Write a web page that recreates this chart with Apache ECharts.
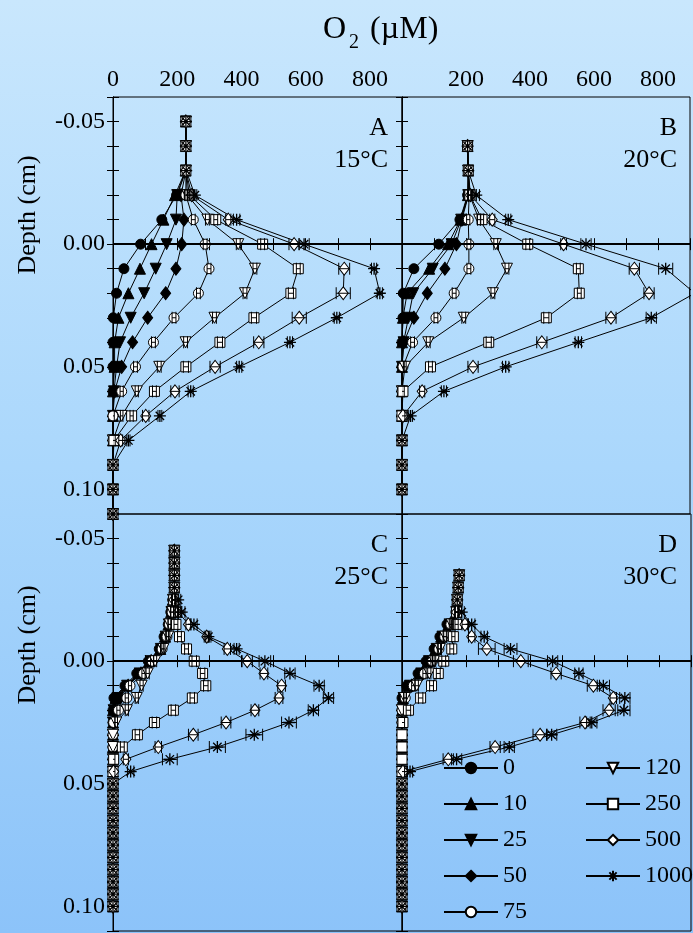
<!DOCTYPE html>
<html><head><meta charset="utf-8">
<script src="https://cdn.jsdelivr.net/npm/echarts@6/dist/echarts.min.js"></script>
<style>html,body{margin:0;padding:0;}body{width:693px;height:933px;background:linear-gradient(to bottom,#c9e7fd 0%,#aad7fc 50%,#8cc3f9 100%);}#c{width:693px;height:933px;}</style>
</head><body><div id="c"></div>
<script>
// ---- data ----
var seriesNames = ['0','10','25','50','75','120','250','500','1000'];
var xTicks = [0,200,400,600,800];
var yTicks = [-0.05,0.00,0.05,0.10];
var panelLabels = ['A','B','C','D'];
var panelTemps = ['15°C','20°C','25°C','30°C'];

var depthA = [-0.05,-0.04,-0.03,-0.02,-0.01,0,0.01,0.02,0.03,0.04,0.05,0.06,0.07,0.08,0.09,0.10,0.11];
var A_0    = [227,227,226,198,152,86,34,11,1,0,0,0,0,0,0,0,0];
var A_10   = [227,227,226,193,157,120,84,48,17,5,5,0,0,0,0,0,0];
var A_25   = [227,227,227,200,196,167,133,97,55,22,11,3,0,0,0,0,0];
var A_50   = [227,227,227,212,221,214,196,164,108,61,27,5,0,0,0,0,0];
var A_75   = [227,227,227,227,250,287,299,266,190,126,70,27,0,0,0,0,0];
var A_120  = [227,227,227,232,294,390,442,411,316,226,144,74,27,0,0,0,0];
var A_250  = [227,227,227,238,320,466,577,554,439,333,227,129,58,3,0,0,0];
var A_500  = [227,227,227,245,359,564,720,717,580,454,318,193,102,24,0,0,0];
var A_1000 = [227,227,228,255,385,595,813,831,697,551,393,242,146,48,0,0,0];
// error half-widths (uM)
var A_e75   = [0,0,0,5,6,6,6,6,6,6,6,5,4,0,0,0,0];
var A_e120  = [0,0,0,5,6,6,6,6,6,6,6,5,4,0,0,0,0];
var A_e250  = [0,0,0,5,6,6,6,8,8,8,8,6,5,4,0,0,0];
var A_e500  = [0,0,0,6,8,16,17,22,22,16,16,13,10,6,0,0,0];
var A_e1000 = [0,0,0,6,10,16,8,8,8,8,8,8,6,5,0,0,0];

var depthB = [-0.04,-0.03,-0.02,-0.01,0,0.01,0.02,0.03,0.04,0.05,0.06,0.07,0.08,0.09,0.10];
var B_0    = [205,207,205,181,115,37,4,3,0,0,0,0,0,0,0];
var B_10   = [205,207,206,183,144,85,16,3,0,0,0,0,0,0,0];
var B_25   = [205,207,207,185,155,96,35,20,5,0,0,0,0,0,0];
var B_50   = [205,207,208,187,170,134,79,37,6,0,0,0,0,0,0];
var B_75   = [205,207,210,207,209,209,163,106,33,3,0,0,0,0,0];
var B_120  = [205,207,211,241,293,328,284,193,82,9,0,0,0,0,0];
var B_250  = [205,207,212,250,393,551,554,451,271,89,3,0,0,0,0];
var B_500  = [205,207,214,282,505,726,772,653,437,222,63,3,0,0,0];
var B_1000 = [205,207,232,332,575,824,915,779,551,324,131,27,0,0,0];
var B_e75   = [0,0,5,5,6,6,6,6,6,4,0,0,0,0,0];
var B_e120  = [0,0,5,5,6,6,6,6,6,4,0,0,0,0,0];
var B_e250  = [0,0,5,5,6,6,6,8,8,6,4,0,0,0,0];
var B_e500  = [0,0,6,8,9,16,16,16,16,16,8,6,0,0,0];
var B_e1000 = [0,0,10,8,16,22,16,16,10,10,8,6,0,0,0];

var depthC = [-0.045,-0.04,-0.035,-0.03,-0.025,-0.02,-0.015,-0.01,-0.005,0,0.005,0.01,0.015,0.02,0.025,0.03,0.035,0.04,0.045,0.05,0.055,0.06,0.065,0.07,0.075,0.08,0.085,0.09,0.095,0.10];
var C_0    = [191,191,191,191,186,180,172,159,144,110,74,37,3,0,0,0,0,0,0,0,0,0,0,0,0,0,0,0,0,0];
var C_10   = [191,191,191,191,186,181,173,162,147,114,79,41,8,0,0,0,0,0,0,0,0,0,0,0,0,0,0,0,0,0];
var C_25   = [191,191,191,191,187,182,174,164,149,117,83,44,14,2,0,0,0,0,0,0,0,0,0,0,0,0,0,0,0,0];
var C_50   = [191,191,191,191,187,183,175,166,151,119,87,47,22,5,0,0,0,0,0,0,0,0,0,0,0,0,0,0,0,0];
var C_75   = [191,191,191,191,188,184,176,168,153,122,95,53,43,17,2,0,0,0,0,0,0,0,0,0,0,0,0,0,0,0];
var C_120  = [191,191,191,191,188,185,177,172,157,131,108,89,74,43,10,0,0,0,0,0,0,0,0,0,0,0,0,0,0,0];
var C_250  = [191,191,191,191,189,195,196,207,229,253,279,289,247,188,129,76,29,2,0,0,0,0,0,0,0,0,0,0,0,0];
var C_500  = [191,191,191,191,190,203,235,292,356,418,470,525,517,442,352,250,141,40,2,0,0,0,0,0,0,0,0,0,0,0];
var C_1000 = [191,191,191,191,203,214,252,297,385,473,551,642,671,624,548,440,325,177,55,0,0,0,0,0,0,0,0,0,0,0];
var C_e75   = [0,0,0,0,5,5,5,5,5,5,5,5,5,5,4,0,0,0,0,0,0,0,0,0,0,0,0,0,0,0];
var C_e120  = [0,0,0,0,5,5,5,5,5,5,5,5,5,5,4,0,0,0,0,0,0,0,0,0,0,0,0,0,0,0];
var C_e250  = [0,0,0,0,5,6,6,6,6,7,7,7,7,7,7,7,6,4,0,0,0,0,0,0,0,0,0,0,0,0];
var C_e500  = [0,0,0,0,5,8,8,8,10,16,12,12,12,12,15,15,10,8,4,0,0,0,0,0,0,0,0,0,0,0];
var C_e1000 = [0,0,0,0,8,10,10,8,8,18,16,16,16,16,23,26,25,23,10,0,0,0,0,0,0,0,0,0,0,0];

var depthD = [-0.035,-0.03,-0.025,-0.02,-0.015,-0.01,-0.005,0,0.005,0.01,0.015,0.02,0.025,0.03,0.035,0.04,0.045,0.05,0.055,0.06,0.065,0.07,0.075,0.08,0.085,0.09,0.095,0.10];
var D_0    = [178,175,172,168,140,118,100,75,50,15,0,0,0,0,0,0,0,0,0,0,0,0,0,0,0,0,0,0];
var D_10   = [178,175,172,168,145,122,105,80,56,20,3,0,0,0,0,0,0,0,0,0,0,0,0,0,0,0,0,0];
var D_25   = [178,175,172,169,148,126,108,84,60,25,5,0,0,0,0,0,0,0,0,0,0,0,0,0,0,0,0,0];
var D_50   = [178,175,172,169,150,130,112,88,64,30,7,0,0,0,0,0,0,0,0,0,0,0,0,0,0,0,0,0];
var D_75   = [178,175,172,170,152,133,115,95,70,35,10,0,0,0,0,0,0,0,0,0,0,0,0,0,0,0,0,0];
var D_120  = [178,175,172,170,155,135,118,100,85,46,9,0,0,0,0,0,0,0,0,0,0,0,0,0,0,0,0,0];
var D_250  = [178,175,172,170,170,160,155,130,113,92,58,20,3,0,0,0,0,0,0,0,0,0,0,0,0,0,0,0];
var D_500  = [178,175,172,170,196,217,264,370,480,596,658,645,570,430,290,144,3,0,0,0,0,0,0,0,0,0,0,0];
var D_1000 = [178,175,172,186,217,256,338,469,551,627,694,691,591,466,334,170,25,0,0,0,0,0,0,0,0,0,0,0];
var D_e75   = [0,0,0,5,5,5,5,5,5,5,4,0,0,0,0,0,0,0,0,0,0,0,0,0,0,0,0,0];
var D_e120  = [0,0,0,5,5,5,5,5,5,5,4,0,0,0,0,0,0,0,0,0,0,0,0,0,0,0,0,0];
var D_e250  = [0,0,0,5,5,5,6,6,6,6,7,7,5,0,0,0,0,0,0,0,0,0,0,0,0,0,0,0];
var D_e500  = [0,0,0,5,9,10,26,23,16,19,10,19,16,22,16,16,5,0,0,0,0,0,0,0,0,0,0,0];
var D_e1000 = [0,0,0,8,10,10,20,16,13,19,16,19,16,16,16,16,8,0,0,0,0,0,0,0,0,0,0,0];

var panels = [
  {depth: depthA, vals: [A_0,A_10,A_25,A_50,A_75,A_120,A_250,A_500,A_1000], errs: {4:A_e75, 5:A_e120, 6:A_e250, 7:A_e500, 8:A_e1000}},
  {depth: depthB, vals: [B_0,B_10,B_25,B_50,B_75,B_120,B_250,B_500,B_1000], errs: {4:B_e75, 5:B_e120, 6:B_e250, 7:B_e500, 8:B_e1000}},
  {depth: depthC, vals: [C_0,C_10,C_25,C_50,C_75,C_120,C_250,C_500,C_1000], errs: {4:C_e75, 5:C_e120, 6:C_e250, 7:C_e500, 8:C_e1000}},
  {depth: depthD, vals: [D_0,D_10,D_25,D_50,D_75,D_120,D_250,D_500,D_1000], errs: {4:D_e75, 5:D_e120, 6:D_e250, 7:D_e500, 8:D_e1000}}
];

// ---- styles ----
var FONT = "'Liberation Serif','Times New Roman',serif";
var triDown = 'path://M0,0 L10,0 L5,9 Z';
var aster = 'path://M5,0 L5,10 M0,5 L10,5 M1.5,1.5 L8.5,8.5 M1.5,8.5 L8.5,1.5';
var sym = [
  {s:'circle', size:10, fill:'#000'},
  {s:'triangle', size:11, fill:'#000'},
  {s:triDown, size:11, fill:'#000'},
  {s:'diamond', size:[10,13], fill:'#000'},
  {s:'circle', size:10, fill:'#fff'},
  {s:triDown, size:11, fill:'#fff'},
  {s:'rect', size:10, fill:'#fff'},
  {s:'diamond', size:[10,13], fill:'#fff'},
  {s:aster, size:12, fill:'#000'}
];

function renderErr(params, api) {
  var e = api.value(2);
  if (!e) return null;
  var x = api.value(0), y = api.value(1);
  var l = api.coord([x - e, y]), r = api.coord([x + e, y]);
  var h = 6;
  var st = {stroke:'#000', lineWidth:1};
  return {type:'group', children:[
    {type:'line', shape:{x1:l[0], y1:l[1], x2:r[0], y2:r[1]}, style:st},
    {type:'line', shape:{x1:l[0], y1:l[1]-h, x2:l[0], y2:l[1]+h}, style:st},
    {type:'line', shape:{x1:r[0], y1:r[1]-h, x2:r[0], y2:r[1]+h}, style:st}
  ]};
}

var gridPos = [
  {left:113, top:97}, {left:402, top:97}, {left:113, top:514}, {left:402, top:514}
];
var grids = [], xAxes = [], yAxes = [], series = [];
gridPos.forEach(function(g, p){
  grids.push({left:g.left, top:g.top, width:289, height:417, show:true, borderColor:'#000', borderWidth:1, backgroundColor:'transparent'});
  var showX = p < 2;
  var showY = (p % 2) === 0;
  xAxes.push({
    type:'value', gridIndex:p, position:'top', min:0, max:900, interval:100,
    axisLine:{show:true, lineStyle:{color:'#000', width:1}},
    axisTick:{show:true, inside:true, length:6, lineStyle:{color:'#000'}},
    splitLine:{show:false},
    axisLabel:{show:showX, margin:5, color:'#000', fontFamily:FONT, fontSize:24,
      formatter:function(v){ if (xTicks.indexOf(v) < 0) return ''; if (p===1 && v===0) return ''; return String(v);} }
  });
  xAxes.push({
    type:'value', gridIndex:p, position:'bottom', min:0, max:900, interval:100,
    axisLine:{show:true, lineStyle:{color:'#000', width:1}},
    axisTick:{show:true, inside:true, length:6, lineStyle:{color:'#000'}},
    splitLine:{show:false}, axisLabel:{show:false}
  });
  yAxes.push({
    type:'value', gridIndex:p, position:'left', inverse:true, min:-0.06, max:0.11, interval:0.01,
    axisLine:{show:true, lineStyle:{color:'#000', width:1}},
    axisTick:{show:true, inside:true, length:6, lineStyle:{color:'#000'}},
    splitLine:{show:false},
    axisLabel:{show:showY, margin:8, color:'#000', fontFamily:FONT, fontSize:24,
      formatter:function(v){ var r = Math.round(v*100); for (var i=0;i<yTicks.length;i++){ if (Math.round(yTicks[i]*100)===r) return yTicks[i].toFixed(2);} return ''; } }
  });
  yAxes.push({
    type:'value', gridIndex:p, position:'right', inverse:true, min:-0.06, max:0.11, interval:0.01,
    axisLine:{show:true, lineStyle:{color:'#000', width:1}},
    axisTick:{show:true, inside:true, length:6, lineStyle:{color:'#000'}},
    splitLine:{show:false}, axisLabel:{show:false}
  });
  var pn = panels[p];
  seriesNames.forEach(function(name, k){
    var data = pn.depth.map(function(d, i){ return [pn.vals[k][i], d]; });
    var s = {
      type:'line', name:name, xAxisIndex:p*2, yAxisIndex:p*2, data:data,
      symbol:sym[k].s, symbolSize:sym[k].size, showAllSymbol:true, clip:true,
      lineStyle:{color:'#000', width:1},
      itemStyle:{color:sym[k].fill, borderColor:'#000', borderWidth: k===8 ? 1.3 : 1},
      animation:false, z: 2
    };
    if (k === 8) {
      s.markLine = {silent:true, symbol:['none','none'], label:{show:false},
        lineStyle:{color:'#000', width:2, type:'solid'}, data:[{yAxis:0}], animation:false};
    }
    series.push(s);
    if (pn.errs[k]) {
      var ed = pn.depth.map(function(d, i){ return [pn.vals[k][i], d, pn.errs[k][i]]; });
      series.push({type:'custom', name:'err'+name, xAxisIndex:p*2, yAxisIndex:p*2, data:ed,
        renderItem:renderErr, clip:true, silent:true, z:3, animation:false});
    }
  });
});

var graphics = [];
gridPos.forEach(function(g, p){
  graphics.push({type:'text', right: 693 - (g.left + 289 - 14), top: g.top + 18,
    style:{text:panelLabels[p], font:'26px ' + FONT, fill:'#000', textAlign:'right'}});
  graphics.push({type:'text', right: 693 - (g.left + 289 - 14), top: g.top + 50,
    style:{text:panelTemps[p], font:'26px ' + FONT, fill:'#000', textAlign:'right'}});
});
graphics.push({type:'text', x:28, y:215, rotation:Math.PI/2,
  style:{text:'Depth (cm)', font:'26px ' + FONT, fill:'#000', textAlign:'center', textVerticalAlign:'middle'}});
graphics.push({type:'text', x:28, y:645, rotation:Math.PI/2,
  style:{text:'Depth (cm)', font:'26px ' + FONT, fill:'#000', textAlign:'center', textVerticalAlign:'middle'}});

var legendCommon = {orient:'vertical', itemWidth:54, itemHeight:13, itemGap:12, padding:0,
  textStyle:{color:'#000', fontFamily:FONT, fontSize:24, lineHeight:24},
  selectedMode:false};

var chart = echarts.init(document.getElementById('c'), null, {renderer:'canvas'});
chart.setOption({
  animation:false,
  backgroundColor:'transparent',
  title:{text:'O{s|2} (µM)', left:318, top:2,
    textStyle:{color:'#000', fontFamily:FONT, fontSize:32, fontWeight:'normal',
      rich:{s:{fontFamily:FONT, fontSize:20, color:'#000', padding:[26,3,0,3]}}}},
  grid:grids, xAxis:xAxes, yAxis:yAxes, series:series, graphic:graphics,
  legend:[
    Object.assign({left:443, top:756, data:['0','10','25','50','75']}, legendCommon),
    Object.assign({left:585, top:756, data:['120','250','500','1000']}, legendCommon)
  ]
});
</script></body></html>
